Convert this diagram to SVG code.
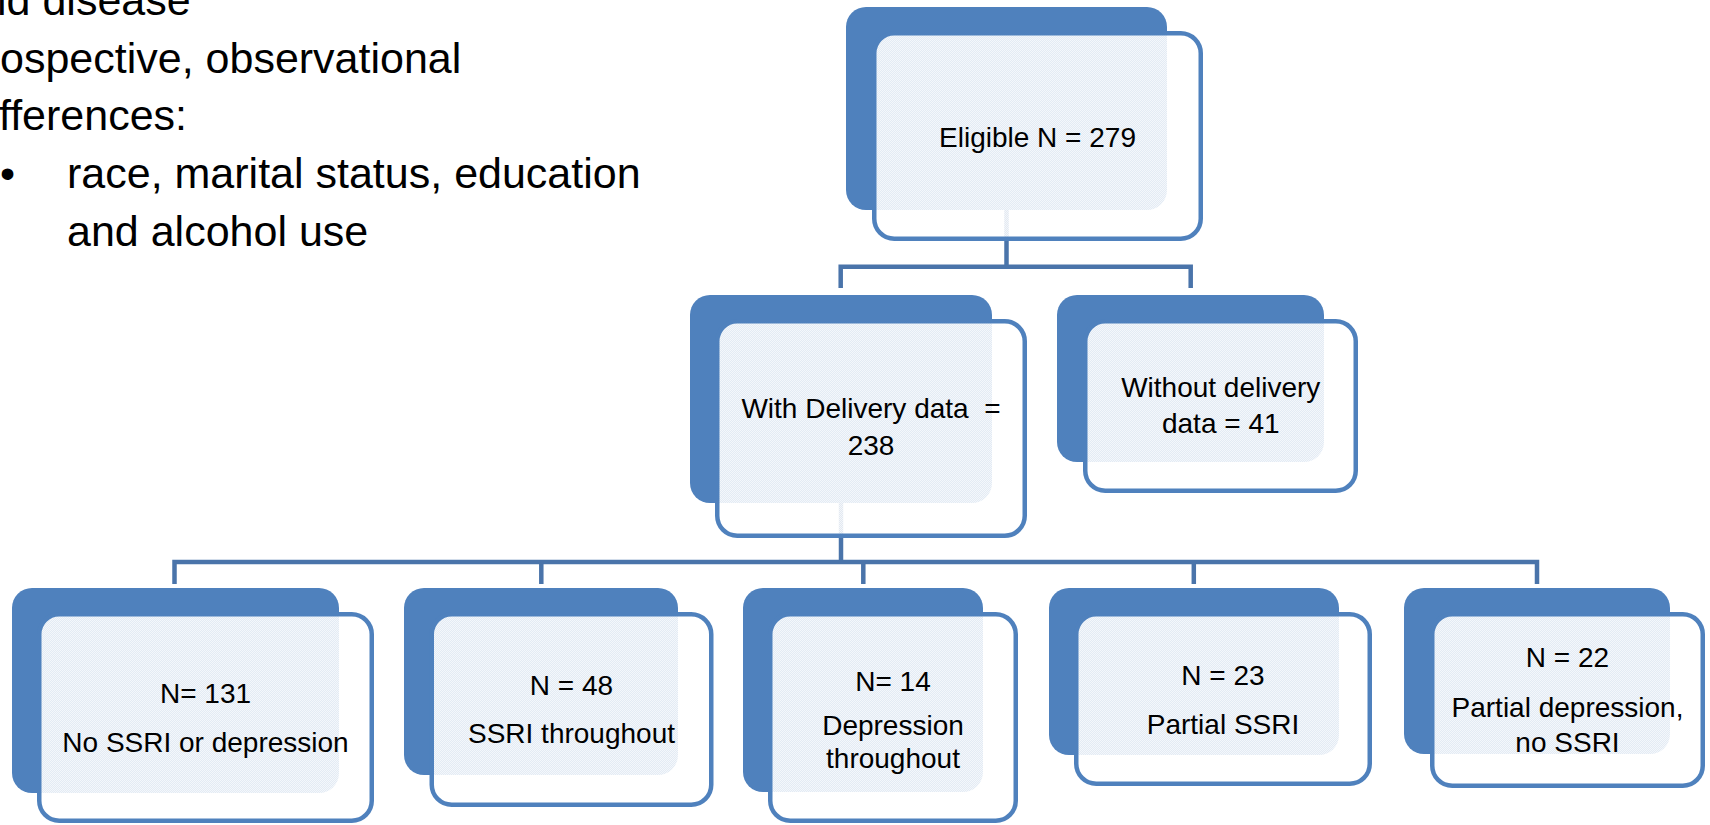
<svg xmlns="http://www.w3.org/2000/svg" width="1710" height="825" viewBox="0 0 1710 825">
  <defs>
    <pattern id="tex" width="2" height="2" patternUnits="userSpaceOnUse">
      <rect x="0" y="0" width="2" height="2" fill="#ffffff" fill-opacity="0.84"/>
      <rect x="0" y="0" width="1" height="1" fill="#ffffff" fill-opacity="0.6"/>
      <rect x="1" y="1" width="1" height="1" fill="#ffffff" fill-opacity="0.6"/>
    </pattern>
  </defs>
  <style>
    .back { fill: #4f81bd; }
    .front { fill: url(#tex); stroke: #4f81bd; stroke-width: 4.5; }
    .conn { fill: none; stroke: #4a74aa; stroke-width: 4.5; stroke-linejoin: miter; }
    .lbl { font-family: "Liberation Sans", Arial, sans-serif; font-size: 28px; fill: #000; text-anchor: middle; }
    .side { font-family: "Liberation Sans", Arial, sans-serif; font-size: 43px; fill: #000; }
  </style>

  <rect width="1710" height="825" fill="#ffffff"/>

  <g id="side-text">
    <text class="side" x="-3" y="15">id disease</text>
    <text class="side" x="0" y="72.5">ospective, observational</text>
    <text class="side" x="-1" y="130">fferences:</text>
    <text class="side" x="0" y="188">•</text>
    <text class="side" x="67" y="188">race, marital status, education</text>
    <text class="side" x="67" y="245.5">and alcohol use</text>
  </g>

  <g id="connectors">
    <path class="conn" d="M1006.5,210 V266.7"/>
    <path class="conn" d="M840.7,288 V266.7 H1190.7 V288"/>
    <path class="conn" d="M841,503 V562"/>
    <path class="conn" d="M174.5,584 V562 H1537 V584"/>
    <path class="conn" d="M541.3,562 V584"/>
    <path class="conn" d="M863.3,562 V584"/>
    <path class="conn" d="M1193.8,562 V584"/>
  </g>

  <g id="node-eligible">
    <rect class="back" x="846" y="7" width="321" height="203" rx="20"/>
    <rect class="front" x="874.25" y="33.25" width="326.5" height="205.5" rx="20"/>
    <text class="lbl" x="1037.5" y="147">Eligible N = 279</text>
  </g>

  <g id="node-with-delivery">
    <rect class="back" x="690" y="295" width="302" height="208" rx="20"/>
    <rect class="front" x="717.25" y="321.25" width="307.5" height="214.5" rx="20"/>
    <text class="lbl" xml:space="preserve" x="871" y="418.3">With Delivery data  =</text>
    <text class="lbl" x="871" y="455">238</text>
  </g>

  <g id="node-without-delivery">
    <rect class="back" x="1057" y="295" width="267" height="167" rx="20"/>
    <rect class="front" x="1085.25" y="321.25" width="270.5" height="169.5" rx="20"/>
    <text class="lbl" x="1220.75" y="397.3">Without delivery</text>
    <text class="lbl" x="1220.75" y="433.3">data = 41</text>
  </g>

  <g id="node-no-ssri">
    <rect class="back" x="12" y="588" width="327" height="205" rx="20"/>
    <rect class="front" x="39.25" y="614.25" width="332.5" height="206.5" rx="20"/>
    <text class="lbl" x="205.5" y="703.3">N= 131</text>
    <text class="lbl" x="205.5" y="751.7">No SSRI or depression</text>
  </g>

  <g id="node-ssri-throughout">
    <rect class="back" x="404" y="588" width="274" height="187" rx="20"/>
    <rect class="front" x="431.75" y="614.25" width="279.5" height="190.5" rx="20"/>
    <text class="lbl" x="571.5" y="695">N = 48</text>
    <text class="lbl" x="571.5" y="743">SSRI throughout</text>
  </g>

  <g id="node-depression-throughout">
    <rect class="back" x="743" y="588" width="240" height="204" rx="20"/>
    <rect class="front" x="770.25" y="614.25" width="245.5" height="206.5" rx="20"/>
    <text class="lbl" x="893" y="691">N= 14</text>
    <text class="lbl" x="893" y="735">Depression</text>
    <text class="lbl" x="893" y="767.5">throughout</text>
  </g>

  <g id="node-partial-ssri">
    <rect class="back" x="1049" y="588" width="290" height="167" rx="20"/>
    <rect class="front" x="1076.25" y="614.25" width="293.5" height="169.5" rx="20"/>
    <text class="lbl" x="1223" y="685">N = 23</text>
    <text class="lbl" x="1223" y="734">Partial SSRI</text>
  </g>

  <g id="node-partial-depression">
    <rect class="back" x="1404" y="588" width="266" height="166" rx="20"/>
    <rect class="front" x="1432.25" y="614.25" width="270.5" height="171.5" rx="20"/>
    <text class="lbl" x="1567.5" y="666.7">N = 22</text>
    <text class="lbl" x="1567.5" y="716.7">Partial depression,</text>
    <text class="lbl" x="1567.5" y="751.7">no SSRI</text>
  </g>
</svg>
